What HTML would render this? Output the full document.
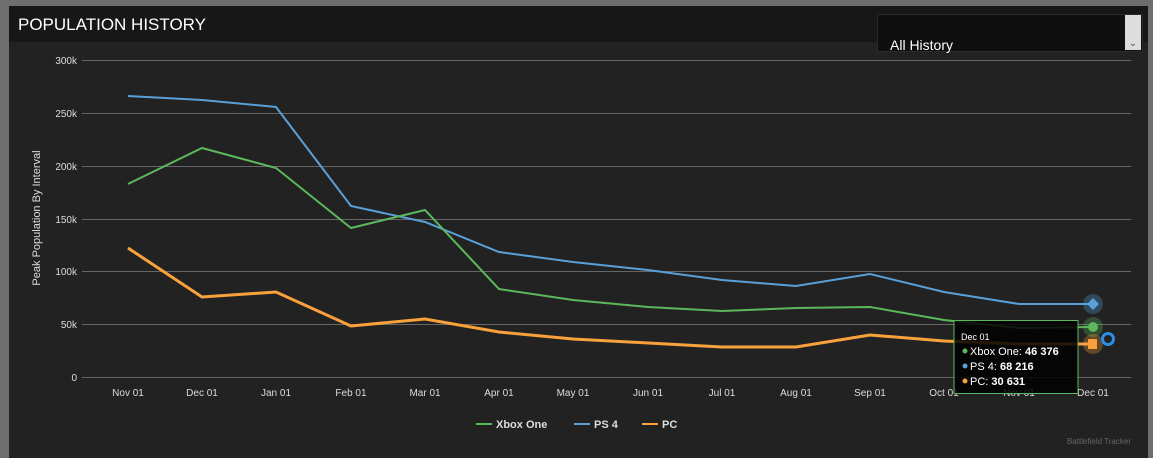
<!DOCTYPE html>
<html><head><style>
body{margin:0;width:1153px;height:458px;overflow:hidden;background:#6e6e6e;font-family:"Liberation Sans",sans-serif;}
.panel{position:absolute;left:9px;top:6px;width:1139px;height:452px;background:#222;}
.hdr{position:absolute;left:0;top:0;width:1139px;height:36px;background:#171717;color:#fff;font-size:17px;}
.hdr span{position:absolute;left:9px;top:9px;}
.sel{position:absolute;left:868px;top:8px;width:264px;height:36px;background:#0f0f0f;border:1px solid #2a2a2a;}
.sel span{position:absolute;left:12px;top:22px;color:#fff;font-size:14px;}
.sel .btn{position:absolute;right:1px;top:0;width:16px;height:35px;background:#ddd;color:#555;font-size:10px;text-align:center;line-height:58px;}
</style></head><body>
<div class="panel">
<div class="hdr"><span>POPULATION HISTORY</span></div>
<div class="sel"><span>All History</span><div class="btn">⌄</div></div>
</div>
<svg width="1153" height="458" style="position:absolute;left:0;top:0" font-family="Liberation Sans, sans-serif">
<g stroke="#666" stroke-width="1">
<line x1="82" y1="60.5" x2="1131" y2="60.5"/><line x1="82" y1="113.5" x2="1131" y2="113.5"/>
<line x1="82" y1="166.5" x2="1131" y2="166.5"/><line x1="82" y1="219.5" x2="1131" y2="219.5"/>
<line x1="82" y1="271.5" x2="1131" y2="271.5"/><line x1="82" y1="324.5" x2="1131" y2="324.5"/>
<line x1="82" y1="377.5" x2="1131" y2="377.5"/>
</g>
<g fill="#ddd" font-size="10" text-anchor="end">
<text x="77" y="64">300k</text><text x="77" y="117">250k</text><text x="77" y="170">200k</text>
<text x="77" y="223">150k</text><text x="77" y="275">100k</text><text x="77" y="328">50k</text><text x="77" y="381">0</text>
</g>
<text transform="translate(40,218) rotate(-90)" fill="#ddd" font-size="11" text-anchor="middle">Peak Population By Interval</text>
<g fill="#ddd" font-size="10" text-anchor="middle" stroke="none">
<text x="128" y="396">Nov 01</text><text x="202" y="396">Dec 01</text><text x="276" y="396">Jan 01</text>
<text x="351" y="396">Feb 01</text><text x="425" y="396">Mar 01</text><text x="499" y="396">Apr 01</text>
<text x="573" y="396">May 01</text><text x="648" y="396">Jun 01</text><text x="722" y="396">Jul 01</text>
<text x="796" y="396">Aug 01</text><text x="870" y="396">Sep 01</text><text x="944" y="396">Oct 01</text>
<text x="1019" y="396">Nov 01</text><text x="1093" y="396">Dec 01</text>
</g>
<polyline fill="none" stroke="#5aa0d8" stroke-width="2" points="128,96 202,100 276,107 351,206 425,222 499,252 573,262 648,270 722,280 796,286 870,274 944,292 1019,304 1093,304"/>
<polyline fill="none" stroke="#5cb85c" stroke-width="2" points="128,184 202,148 276,168 351,228 425,210 499,289 573,300 648,307 722,311 796,308 870,307 944,320 1019,328 1093,327"/>
<polyline fill="none" stroke="#f9a13a" stroke-width="3" points="128,248 202,297 276,292 351,326 425,319 499,332 573,339 648,343 722,347 796,347 870,335 944,341 1019,344 1093,344"/>
<circle cx="1093" cy="304" r="10" fill="#5aa0d8" opacity="0.3"/><path d="M1093,298 l6,6 -6,6 -6,-6z" fill="#5aa0d8"/>
<circle cx="1093" cy="327" r="10" fill="#5cb85c" opacity="0.3"/><circle cx="1093" cy="327" r="5" fill="#5cb85c"/>
<circle cx="1093" cy="344" r="10" fill="#f9a13a" opacity="0.3"/><rect x="1088" y="339" width="9" height="10" fill="#f9a13a"/>
<circle cx="1108" cy="339" r="5.5" fill="none" stroke="#2a8fe8" stroke-width="3"/>
<rect x="954" y="320.5" width="124" height="73" fill="#000" fill-opacity="0.85" stroke="#5cb85c"/>
<text x="961" y="340" fill="#fff" font-size="9">Dec 01</text>
<g font-size="11" fill="#fff">
<circle cx="965" cy="351" r="2.5" fill="#5cb85c"/><text x="970" y="355">Xbox One: <tspan font-weight="bold">46 376</tspan></text>
<circle cx="965" cy="366" r="2.5" fill="#5aa0d8"/><text x="970" y="370">PS 4: <tspan font-weight="bold">68 216</tspan></text>
<circle cx="965" cy="381" r="2.5" fill="#f9a13a"/><text x="970" y="385">PC: <tspan font-weight="bold">30 631</tspan></text>
</g>
<g font-size="11" font-weight="bold" fill="#ddd">
<line x1="476" y1="424" x2="492" y2="424" stroke="#5cb85c" stroke-width="2"/><text x="496" y="428">Xbox One</text>
<line x1="574" y1="424" x2="590" y2="424" stroke="#5aa0d8" stroke-width="2"/><text x="594" y="428">PS 4</text>
<line x1="642" y1="424" x2="658" y2="424" stroke="#f9a13a" stroke-width="2"/><text x="662" y="428">PC</text>
</g>
<text x="1131" y="444" fill="#666" font-size="8" text-anchor="end">Battlefield Tracker</text>
</svg>
</body></html>
